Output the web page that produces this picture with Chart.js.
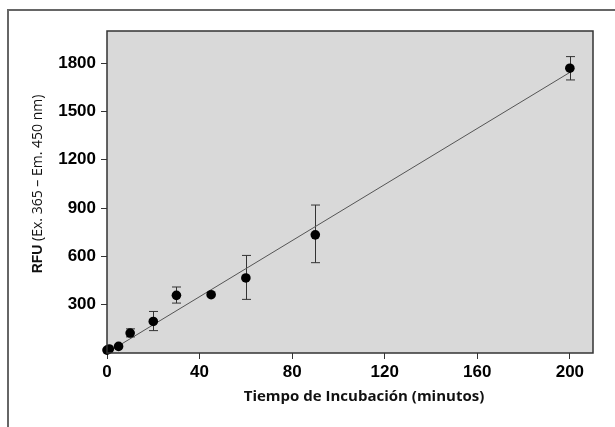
<!DOCTYPE html>
<html>
<head>
<meta charset="utf-8">
<script src="https://cdn.jsdelivr.net/npm/chart.js@4/dist/chart.umd.min.js"></script>
<style>
  body { margin: 0; background: #fff; }
  #wrap { width: 615px; height: 427px; }
</style>
</head>
<body>
<div id="wrap"><canvas id="rfu_chart" width="615" height="427"></canvas></div>
<script>
// valores
const tiempo = [0, 1, 5, 10, 20, 30, 45, 60, 90, 200];
const rfu = [18, 25, 41, 124, 196, 358, 362, 466, 734, 1769];
const errAlto = [null, null, null, 150, 258, 410, null, 606, 919, 1841];
const errBajo = [null, null, null, 100, 139, 310, null, 333, 561, 1696];

// recta de ajuste (extremos)
const ajusteX = [1, 200];
const ajusteY = [10, 1743];

const xTicks = [0, 40, 80, 120, 160, 200];
const yTicks = [300, 600, 900, 1200, 1500, 1800];

const puntos = tiempo.map((t, i) => ({ x: t, y: rfu[i] }));
const recta = ajusteX.map((t, i) => ({ x: t, y: ajusteY[i] }));

const tickFont = { family: '"Liberation Sans", Arial, sans-serif', weight: 'bold', size: 17 };

// fondo gris, marco, barras de error y titulos
const decoracion = {
    id: 'decoracion',
    beforeDraw(chart) {
        const ctx = chart.ctx;
        const a = chart.chartArea;
        ctx.save();
        ctx.fillStyle = '#d9d9d9';
        ctx.fillRect(a.left, a.top, a.right - a.left, a.bottom - a.top);

        // marco exterior
        ctx.strokeStyle = '#666';
        ctx.lineWidth = 2;
        ctx.beginPath();
        ctx.moveTo(8, 427);
        ctx.lineTo(8, 10);
        ctx.lineTo(615, 10);
        ctx.stroke();
        ctx.restore();
    },
    beforeDatasetsDraw(chart) {
        const ctx = chart.ctx;
        const xs = chart.scales.x;
        const ys = chart.scales.y;
        ctx.save();
        ctx.strokeStyle = '#333';
        ctx.lineWidth = 1;
        tiempo.forEach((t, i) => {
            if (errAlto[i] == null) return;
            const px = Math.round(xs.getPixelForValue(t)) + 0.5;
            const top = ys.getPixelForValue(errAlto[i]);
            const bot = ys.getPixelForValue(errBajo[i]);
            ctx.beginPath();
            ctx.moveTo(px, top);
            ctx.lineTo(px, bot);
            ctx.moveTo(px - 4.5, top);
            ctx.lineTo(px + 4.5, top);
            ctx.moveTo(px - 4.5, bot);
            ctx.lineTo(px + 4.5, bot);
            ctx.stroke();
        });
        ctx.restore();
    },
    afterDraw(chart) {
        const ctx = chart.ctx;
        const a = chart.chartArea;
        ctx.save();
        ctx.strokeStyle = '#333';
        ctx.lineWidth = 1.5;
        ctx.strokeRect(a.left, a.top, a.right - a.left, a.bottom - a.top);

        // titulo eje x
        ctx.fillStyle = '#111';
        ctx.font = 'bold 15px "Open Sans"';
        ctx.textAlign = 'center';
        ctx.textBaseline = 'middle';
        ctx.fillText('Tiempo de Incubación (minutos)', 364, 397);

        // titulo eje y (RFU en negrita)
        const parte1 = 'RFU';
        const parte2 = ' (Ex. 365 – Em. 450 nm)';
        ctx.translate(38, 184);
        ctx.rotate(-Math.PI / 2);
        ctx.font = 'bold 14px "Liberation Sans"';
        const w1 = ctx.measureText(parte1).width;
        ctx.font = '14px "Open Sans"';
        const w2 = ctx.measureText(parte2).width;
        const x0 = -(w1 + w2) / 2;
        ctx.textAlign = 'left';
        ctx.font = 'bold 14px "Liberation Sans"';
        ctx.fillText(parte1, x0, 0);
        ctx.font = '14px "Open Sans"';
        ctx.fillText(parte2, x0 + w1, 0);
        ctx.restore();
    }
};

const ctx = document.getElementById('rfu_chart').getContext('2d');
const myChart = new Chart(ctx, {
    type: 'scatter',
    data: {
        datasets: [{
            label: 'RFU',
            data: puntos,
            pointRadius: 4.8,
            pointHoverRadius: 4.8,
            backgroundColor: '#000',
            borderColor: '#000',
            borderWidth: 0,
            clip: false
        }, {
            label: 'Ajuste',
            data: recta,
            showLine: true,
            pointRadius: 0,
            borderColor: '#555',
            borderWidth: 1
        }]
    },
    options: {
        responsive: false,
        animation: false,
        layout: { padding: { top: 31, right: 22, left: 0, bottom: 0 } },
        plugins: {
            legend: { display: false },
            tooltip: { enabled: false }
        },
        scales: {
            x: {
                type: 'linear',
                min: 0,
                max: 210,
                afterBuildTicks: s => { s.ticks = xTicks.map(v => ({ value: v })); },
                afterFit: s => { s.height = 74; },
                grid: { drawOnChartArea: false, tickLength: 6, color: '#333' },
                border: { display: false },
                ticks: { font: tickFont, color: '#000', padding: 3, maxRotation: 0, callback: v => String(v) }
            },
            y: {
                min: 0,
                max: 2000,
                afterBuildTicks: s => { s.ticks = yTicks.map(v => ({ value: v })); },
                afterFit: s => { s.width = 107; },
                grid: { drawOnChartArea: false, tickLength: 6, color: '#333' },
                border: { display: false },
                ticks: { font: tickFont, color: '#000', padding: 5, callback: v => String(v) }
            }
        }
    },
    plugins: [decoracion]
});
</script>
</body>
</html>
